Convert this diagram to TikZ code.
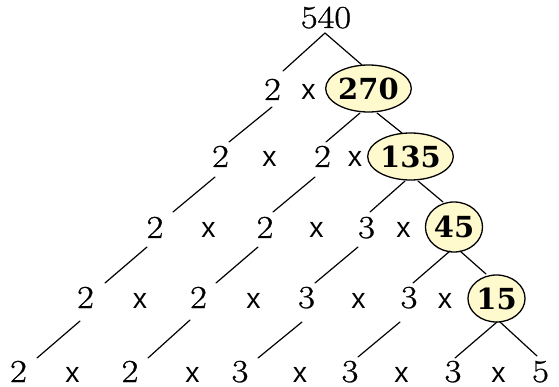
\documentclass[tikz,border=0pt]{standalone}
\usepackage{fontspec}
\usetikzlibrary{shapes.geometric}
\newfontfamily\xsansfont{Liberation Sans}
\newfontfamily\bnumfont{DejaVu Serif}
\newfontfamily\plainnumfont{Latin Modern Roman}[FakeStretch=1.14,FakeBold=0.8]
\definecolor{pale}{RGB}{255,249,206}
\tikzset{
  num/.style={anchor=base,inner sep=0pt,font=\plainnumfont\fontsize{32}{32}\selectfont},
  times/.style={anchor=base,inner sep=0pt,font=\xsansfont\fontsize{28.5}{28.5}\selectfont},
  bubble/.style={ellipse,draw=black,line width=1.3pt,fill=pale,inner sep=0pt,font=\bnumfont\bfseries\fontsize{29}{29}\selectfont},
  link/.style={line width=1.2pt,line cap=round}
}
\begin{document}
\begin{tikzpicture}[x=1pt,y=-1pt]
\useasboundingbox (0,0) rectangle (559,387);
% row 0
\node[num] (n540) at (326,28) {540};
% row 1
\node[num] (a1) at (272.5,100) {2};
\node[times] (xa1) at (308.5,100) {x};
\node[bubble,minimum width=71pt,minimum height=47pt] (e270) at (368.5,88.5) {270};
% row 2
\node[num] (b1) at (220.5,167) {2};
\node[times] (xb1) at (269.5,167) {x};
\node[num] (b2) at (322.5,167) {2};
\node[times] (xb2) at (355,167) {x};
\node[bubble,minimum width=69pt,minimum height=47pt] (e135) at (410.5,156.5) {135};
% row 3
\node[num] (c1) at (155,238) {2};
\node[times] (xc1) at (208.5,238) {x};
\node[num] (c2) at (265,238) {2};
\node[times] (xc2) at (316.5,238) {x};
\node[num] (c3) at (366.5,238) {3};
\node[times] (xc3) at (403.5,238) {x};
\node[bubble,minimum width=54pt,minimum height=50pt] (e45) at (454,227) {45};
% row 4
\node[num] (d1) at (85.5,308) {2};
\node[times] (xd1) at (140,308) {x};
\node[num] (d2) at (198.5,308) {2};
\node[times] (xd2) at (253.5,308) {x};
\node[num] (d3) at (306.5,308) {3};
\node[times] (xd3) at (358.5,308) {x};
\node[num] (d4) at (409,308) {3};
\node[times] (xd4) at (445,308) {x};
\node[bubble,minimum width=53pt,minimum height=47pt] (e15) at (496.5,298.5) {15};
% row 5
\node[num] (f1) at (18.5,382) {2};
\node[times] (xf1) at (72.5,382) {x};
\node[num] (f2) at (130,382) {2};
\node[times] (xf2) at (192.5,382) {x};
\node[num] (f3) at (240,382) {3};
\node[times] (xf3) at (300,382) {x};
\node[num] (f4) at (350,382) {3};
\node[times] (xf4) at (401.5,382) {x};
\node[num] (f5) at (453,382) {3};
\node[times] (xf5) at (498.5,382) {x};
\node[num] (f6) at (540.5,382) {5};
% connectors
\draw[link] ([shift={(-1,5)}]n540.base) -- ([shift={(10.5,-29)}]a1.base);
\draw[link] ([shift={(-1,5)}]n540.base) -- ([shift={(-6.5,-23.5)}]e270.center);
\draw[link] ([shift={(-0.5,7)}]a1.base) -- ([shift={(8.5,-25)}]b1.base);
\draw[link] ([shift={(-8.5,24.5)}]e270.center) -- ([shift={(3.5,-25)}]b2.base);
\draw[link] ([shift={(8.5,24.5)}]e270.center) -- ([shift={(-8.5,-23.5)}]e135.center);
\draw[link] ([shift={(-5.5,10)}]b1.base) -- ([shift={(18,-26)}]c1.base);
\draw[link] ([shift={(-7.5,10)}]b2.base) -- ([shift={(8,-26)}]c2.base);
\draw[link] ([shift={(-5.5,24.5)}]e135.center) -- ([shift={(3.5,-26)}]c3.base);
\draw[link] ([shift={(7.5,24.5)}]e135.center) -- ([shift={(-11,-25)}]e45.center);
\draw[link] ([shift={(-8,9)}]c1.base) -- ([shift={(19.5,-25)}]d1.base);
\draw[link] ([shift={(-7,9)}]c2.base) -- ([shift={(17.5,-25)}]d2.base);
\draw[link] ([shift={(-8.5,9)}]c3.base) -- ([shift={(8.5,-25)}]d3.base);
\draw[link] ([shift={(-4,24)}]e45.center) -- ([shift={(4,-25)}]d4.base);
\draw[link] ([shift={(6,24)}]e45.center) -- ([shift={(-10.5,-24.5)}]e15.center);
\draw[link] ([shift={(-5.5,13)}]d1.base) -- ([shift={(18.5,-24)}]f1.base);
\draw[link] ([shift={(-8.5,12)}]d2.base) -- ([shift={(18,-24)}]f2.base);
\draw[link] ([shift={(-4.5,14)}]d3.base) -- ([shift={(18,-24)}]f3.base);
\draw[link] ([shift={(-9,14)}]d4.base) -- ([shift={(8,-25)}]f4.base);
\draw[link] ([shift={(0.5,23.5)}]e15.center) -- ([shift={(2,-24)}]f5.base);
\draw[link] ([shift={(3.5,23.5)}]e15.center) -- ([shift={(-3.5,-26)}]f6.base);
\end{tikzpicture}
\end{document}
